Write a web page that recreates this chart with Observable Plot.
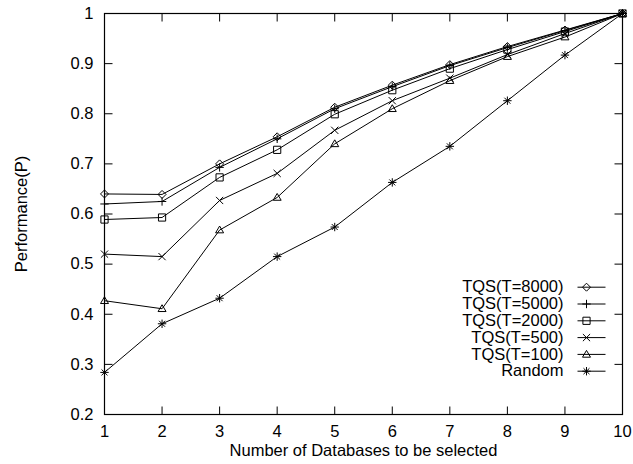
<!DOCTYPE html>
<html>
<head>
<meta charset="utf-8">
<script src="https://cdn.jsdelivr.net/npm/d3@7"></script>
<script src="https://cdn.jsdelivr.net/npm/@observablehq/plot@0.6"></script>
<style>
  html, body { margin: 0; padding: 0; background: white; }
  #chart svg { display: block; }
</style>
</head>
<body>
<div id="chart"></div>
<script>
// ---- data ----
const numDatabases = [1, 2, 3, 4, 5, 6, 7, 8, 9, 10];
const seriesNames = ["TQS(T=8000)", "TQS(T=5000)", "TQS(T=2000)", "TQS(T=500)", "TQS(T=100)", "Random"];
const tqs8000 = [0.640, 0.639, 0.700, 0.754, 0.813, 0.857, 0.898, 0.934, 0.967, 1.0];
const tqs5000 = [0.620, 0.625, 0.693, 0.750, 0.810, 0.854, 0.896, 0.932, 0.966, 1.0];
const tqs2000 = [0.589, 0.593, 0.673, 0.728, 0.799, 0.847, 0.890, 0.928, 0.964, 1.0];
const tqs500  = [0.520, 0.515, 0.627, 0.681, 0.767, 0.826, 0.871, 0.918, 0.960, 1.0];
const tqs100  = [0.427, 0.411, 0.568, 0.633, 0.740, 0.810, 0.866, 0.914, 0.953, 1.0];
const random  = [0.284, 0.381, 0.432, 0.515, 0.574, 0.663, 0.735, 0.826, 0.917, 1.0];
const xTicks = [1, 2, 3, 4, 5, 6, 7, 8, 9, 10];
const yTicks = [0.2, 0.3, 0.4, 0.5, 0.6, 0.7, 0.8, 0.9, 1];
const xLabel = "Number of Databases to be selected";
const yLabel = "Performance(P)";

// ---- custom symbols ----
const asteriskSym = {draw(ctx) {
  const r = 4.2, d = r * Math.SQRT1_2;
  ctx.moveTo(-r, 0); ctx.lineTo(r, 0);
  ctx.moveTo(0, -r); ctx.lineTo(0, r);
  ctx.moveTo(-d, -d); ctx.lineTo(d, d);
  ctx.moveTo(-d, d); ctx.lineTo(d, -d);
}};
const plusSym = {draw(ctx) { const r = 4.2; ctx.moveTo(-r, 0); ctx.lineTo(r, 0); ctx.moveTo(0, -r); ctx.lineTo(0, r); }};
const timesSym = {draw(ctx) { const r = 3.6; ctx.moveTo(-r, -r); ctx.lineTo(r, r); ctx.moveTo(-r, r); ctx.lineTo(r, -r); }};
const diamondSym = {draw(ctx) { const r = 4; ctx.moveTo(0, -r); ctx.lineTo(r, 0); ctx.lineTo(0, r); ctx.lineTo(-r, 0); ctx.closePath(); }};
const squareSym = {draw(ctx) { const r = 3.6; ctx.moveTo(-r, -r); ctx.lineTo(r, -r); ctx.lineTo(r, r); ctx.lineTo(-r, r); ctx.closePath(); }};
const triangleSym = {draw(ctx) { const r = 4; ctx.moveTo(0, -r); ctx.lineTo(r, r * 0.7); ctx.lineTo(-r, r * 0.7); ctx.closePath(); }};
const symbols = [diamondSym, plusSym, squareSym, timesSym, triangleSym, asteriskSym];

const tickLen = 8;
const tickUp = {draw(ctx) { ctx.moveTo(0, 0); ctx.lineTo(0, -tickLen); }};
const tickDown = {draw(ctx) { ctx.moveTo(0, 0); ctx.lineTo(0, tickLen); }};
const tickRight = {draw(ctx) { ctx.moveTo(0, 0); ctx.lineTo(tickLen, 0); }};
const tickLeft = {draw(ctx) { ctx.moveTo(0, 0); ctx.lineTo(-tickLen, 0); }};
const legendLine = {draw(ctx) { ctx.moveTo(-9, 0); ctx.lineTo(19, 0); }};

// ---- table ----
const values = [tqs8000, tqs5000, tqs2000, tqs500, tqs100, random];
const rows = [];
seriesNames.forEach((s, i) => numDatabases.forEach((x, j) => rows.push({series: s, x, y: values[i][j]})));

// ---- marks ----
const marks = [];
marks.push(Plot.frame({stroke: "black", strokeWidth: 1.2}));
marks.push(Plot.dot(xTicks, {x: d => d, frameAnchor: "bottom", symbol: tickUp, stroke: "black", strokeWidth: 1}));
marks.push(Plot.dot(xTicks, {x: d => d, frameAnchor: "top", symbol: tickDown, stroke: "black", strokeWidth: 1}));
marks.push(Plot.dot(yTicks, {y: d => d, frameAnchor: "left", symbol: tickRight, stroke: "black", strokeWidth: 1}));
marks.push(Plot.dot(yTicks, {y: d => d, frameAnchor: "right", symbol: tickLeft, stroke: "black", strokeWidth: 1}));
marks.push(Plot.axisX({ticks: xTicks, tickSize: 0, tickPadding: 11, tickFormat: d3.format("d"),
  label: xLabel, labelAnchor: "center", labelOffset: 41, labelArrow: "none"}));
marks.push(Plot.axisY({ticks: yTicks, tickSize: 0, tickPadding: 11, tickFormat: d => String(+d.toFixed(1)),
  label: yLabel, labelAnchor: "center", labelOffset: 89, labelArrow: "none"}));

seriesNames.forEach((s, i) => {
  const data = rows.filter(r => r.series === s);
  marks.push(Plot.line(data, {x: "x", y: "y", stroke: "black", strokeWidth: 1}));
  marks.push(Plot.dot(data, {x: "x", y: "y", symbol: symbols[i], stroke: "black", strokeWidth: 1, fill: "none"}));
  // legend
  const dy = 273.7 + i * 16.8;
  marks.push(Plot.text([s], {text: d => d, frameAnchor: "top-right", dx: -59, dy, textAnchor: "end", lineAnchor: "middle", fill: "black"}));
  marks.push(Plot.dot([s], {frameAnchor: "top-right", dx: -36, dy, symbol: legendLine, stroke: "black", strokeWidth: 1}));
  marks.push(Plot.dot([s], {frameAnchor: "top-right", dx: -36, dy, symbol: symbols[i], stroke: "black", strokeWidth: 1, fill: "none"}));
});

const chart = Plot.plot({
  width: 633,
  height: 464,
  marginLeft: 104,
  marginRight: 11,
  marginTop: 13,
  marginBottom: 50,
  style: {fontFamily: "'Liberation Sans', Arial, sans-serif", fontSize: "16.5px", color: "black", background: "white", overflow: "visible"},
  x: {domain: [1, 10]},
  y: {domain: [0.2, 1]},
  marks
});
document.getElementById("chart").appendChild(chart);
</script>
</body>
</html>
